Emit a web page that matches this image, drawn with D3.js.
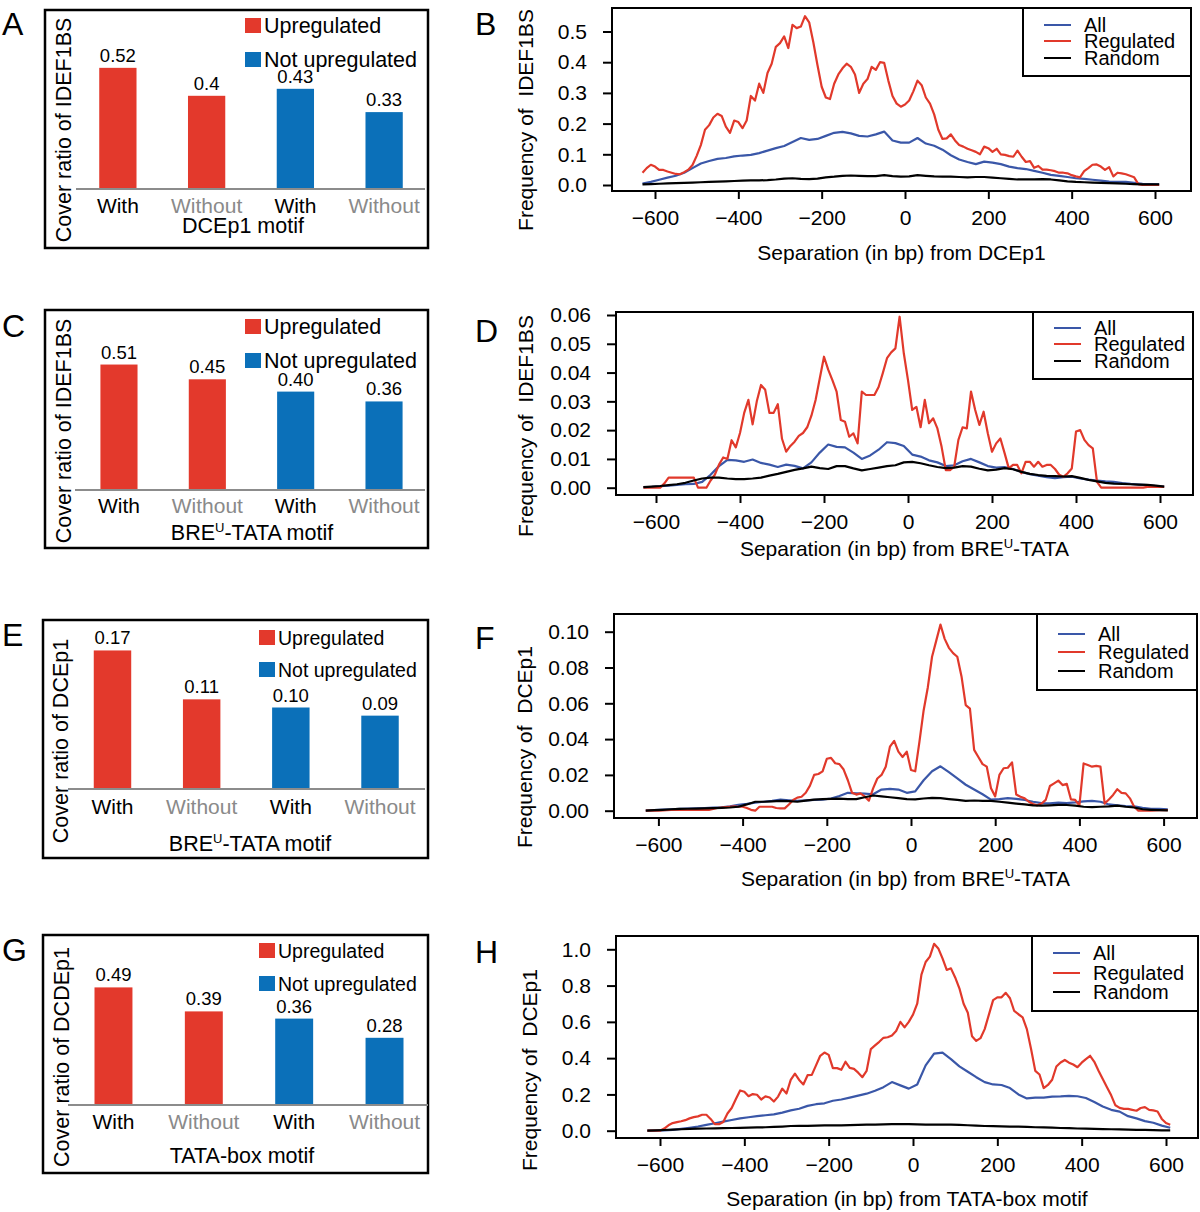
<!DOCTYPE html>
<html>
<head>
<meta charset="utf-8">
<script src="https://cdn.jsdelivr.net/npm/d3@7"></script>
<style>
  body { margin: 0; background: #fff; }
  svg text { font-family: "Liberation Sans", Arial, Helvetica, sans-serif; }
</style>
</head>
<body>
<div id="fig"></div>
<script>
// ---- bar panel data (A, C, E, G) ----
var barCategories = ["With", "Without", "With", "Without"];
var barGroupOf = [0, 0, 1, 1];
var barGroups = ["Upregulated", "Not upregulated"];

var valuesA = [0.52, 0.40, 0.43, 0.33];
var labelsA = ["0.52", "0.4", "0.43", "0.33"];
var valuesC = [0.51, 0.45, 0.40, 0.36];
var labelsC = ["0.51", "0.45", "0.40", "0.36"];
var valuesE = [0.17, 0.11, 0.10, 0.09];
var labelsE = ["0.17", "0.11", "0.10", "0.09"];
var valuesG = [0.49, 0.39, 0.36, 0.28];
var labelsG = ["0.49", "0.39", "0.36", "0.28"];

// ---- line panel data (B, D, F, H) ----
// separation positions (bp): fine grid for "Regulated", coarse grid for "All"/"Random"
var posFine = d3.range(-630, 611, 10);
var posCoarse = d3.range(-630, 611, 20);
var xTicks = [-600, -400, -200, 0, 200, 400, 600];
var seriesNames = ["All", "Regulated", "Random"];

var regB = [
  0.040, 0.055, 0.066, 0.060, 0.049, 0.049, 0.044, 0.040, 0.036, 0.035,
  0.042, 0.050, 0.065, 0.095, 0.130, 0.180, 0.195, 0.220, 0.232, 0.225,
  0.190, 0.170, 0.210, 0.205, 0.185, 0.210, 0.290, 0.275, 0.330, 0.300,
  0.365, 0.395, 0.450, 0.462, 0.484, 0.446, 0.522, 0.511, 0.516, 0.550,
  0.530, 0.465, 0.390, 0.320, 0.285, 0.280, 0.330, 0.360, 0.380, 0.395,
  0.385, 0.360, 0.300, 0.330, 0.345, 0.385, 0.375, 0.400, 0.398, 0.340,
  0.290, 0.265, 0.255, 0.262, 0.275, 0.305, 0.340, 0.325, 0.285, 0.265,
  0.230, 0.180, 0.150, 0.152, 0.165, 0.145, 0.130, 0.125, 0.118, 0.113,
  0.108, 0.100, 0.125, 0.120, 0.108, 0.118, 0.100, 0.098, 0.094, 0.092,
  0.112, 0.092, 0.075, 0.078, 0.056, 0.062, 0.050, 0.050, 0.048, 0.045,
  0.040, 0.040, 0.038, 0.032, 0.028, 0.025, 0.045, 0.055, 0.066, 0.067,
  0.060, 0.049, 0.058, 0.028, 0.040, 0.038, 0.035, 0.030, 0.025, 0.003,
  0.000, 0.000, 0.000, 0.000, 0.000
];
var allB = [
  0.005, 0.010, 0.017, 0.024, 0.030, 0.040, 0.055, 0.070, 0.078, 0.085,
  0.088, 0.093, 0.096, 0.098, 0.104, 0.112, 0.120, 0.127, 0.140, 0.153,
  0.147, 0.150, 0.160, 0.170, 0.173, 0.168, 0.160, 0.158, 0.165, 0.174,
  0.145, 0.138, 0.138, 0.153, 0.135, 0.128, 0.115, 0.097, 0.083, 0.075,
  0.068, 0.076, 0.073, 0.068, 0.060, 0.055, 0.052, 0.046, 0.040, 0.033,
  0.030, 0.026, 0.022, 0.020, 0.017, 0.014, 0.011, 0.010, 0.010, 0.007,
  0.004, 0.003, 0.002
];
var randB = [
  0.002, 0.003, 0.004, 0.005, 0.006, 0.007, 0.008, 0.009, 0.010, 0.011,
  0.012, 0.013, 0.014, 0.015, 0.015, 0.016, 0.018, 0.021, 0.022, 0.020,
  0.019, 0.021, 0.025, 0.027, 0.030, 0.031, 0.030, 0.029, 0.029, 0.032,
  0.029, 0.027, 0.028, 0.032, 0.030, 0.028, 0.027, 0.027, 0.026, 0.025,
  0.026, 0.026, 0.024, 0.022, 0.020, 0.018, 0.018, 0.018, 0.019, 0.018,
  0.015, 0.012, 0.010, 0.009, 0.008, 0.007, 0.006, 0.005, 0.004, 0.003,
  0.002, 0.002, 0.002
];

var regD = [
  0.0000, 0.0000, 0.0000, 0.0000, 0.0000, 0.0015, 0.0035, 0.0035, 0.0035, 0.0035,
  0.0035, 0.0035, 0.0035, 0.0000, 0.0000, 0.0000, 0.0025, 0.0045, 0.0080, 0.0105,
  0.0100, 0.0165, 0.0140, 0.0190, 0.0260, 0.0305, 0.0220, 0.0300, 0.0357, 0.0340,
  0.0260, 0.0260, 0.0290, 0.0170, 0.0125, 0.0145, 0.0160, 0.0180, 0.0190, 0.0210,
  0.0250, 0.0305, 0.0380, 0.0455, 0.0410, 0.0374, 0.0334, 0.0235, 0.0229, 0.0177,
  0.0189, 0.0154, 0.0334, 0.0322, 0.0322, 0.0322, 0.0350, 0.0398, 0.0450, 0.0470,
  0.0484, 0.0594, 0.0467, 0.0374, 0.0270, 0.0281, 0.0210, 0.0305, 0.0224, 0.0241,
  0.0206, 0.0142, 0.0061, 0.0061, 0.0073, 0.0166, 0.0210, 0.0206, 0.0334, 0.0270,
  0.0218, 0.0264, 0.0189, 0.0125, 0.0154, 0.0171, 0.0120, 0.0067, 0.0079, 0.0079,
  0.0050, 0.0090, 0.0090, 0.0073, 0.0090, 0.0073, 0.0079, 0.0079, 0.0065, 0.0045,
  0.0038, 0.0050, 0.0067, 0.0195, 0.0200, 0.0166, 0.0148, 0.0137, 0.0020, 0.0000,
  0.0000, 0.0000, 0.0000, 0.0000, 0.0000, 0.0000, 0.0000, 0.0000, 0.0000, 0.0000,
  0.0003, 0.0003, 0.0003, 0.0003, 0.0003
];
var allD = [
  0.0002, 0.0003, 0.0005, 0.0007, 0.0010, 0.0012, 0.0013, 0.0020, 0.0045, 0.0075,
  0.0097, 0.0095, 0.0090, 0.0098, 0.0086, 0.0080, 0.0072, 0.0080, 0.0076, 0.0067,
  0.0088, 0.0122, 0.0150, 0.0142, 0.0140, 0.0122, 0.0100, 0.0112, 0.0132, 0.0158,
  0.0155, 0.0145, 0.0115, 0.0108, 0.0095, 0.0088, 0.0075, 0.0078, 0.0092, 0.0100,
  0.0088, 0.0075, 0.0070, 0.0072, 0.0065, 0.0055, 0.0047, 0.0042, 0.0037, 0.0033,
  0.0037, 0.0038, 0.0032, 0.0028, 0.0025, 0.0022, 0.0020, 0.0016, 0.0013, 0.0011,
  0.0009, 0.0006, 0.0004
];
var randD = [
  0.0002, 0.0004, 0.0006, 0.0009, 0.0012, 0.0017, 0.0025, 0.0032, 0.0035, 0.0035,
  0.0032, 0.0030, 0.0030, 0.0032, 0.0035, 0.0042, 0.0048, 0.0055, 0.0062, 0.0067,
  0.0073, 0.0068, 0.0065, 0.0075, 0.0075, 0.0067, 0.0060, 0.0065, 0.0070, 0.0075,
  0.0078, 0.0088, 0.0090, 0.0085, 0.0078, 0.0072, 0.0068, 0.0070, 0.0075, 0.0073,
  0.0066, 0.0060, 0.0063, 0.0068, 0.0064, 0.0055, 0.0048, 0.0044, 0.0041, 0.0040,
  0.0039, 0.0040, 0.0034, 0.0027, 0.0022, 0.0017, 0.0014, 0.0013, 0.0012, 0.0011,
  0.0010, 0.0007, 0.0004
];

var regF = [
  0.0000, 0.0000, 0.0000, 0.0000, 0.0002, 0.0003, 0.0004, 0.0004, 0.0004, 0.0004,
  0.0004, 0.0004, 0.0004, 0.0004, 0.0004, 0.0005, 0.0010, 0.0015, 0.0018, 0.0020,
  0.0022, 0.0024, 0.0022, 0.0022, 0.0015, 0.0005, 0.0000, 0.0022, 0.0022, 0.0022,
  0.0022, 0.0015, 0.0013, 0.0013, 0.0035, 0.0060, 0.0073, 0.0078, 0.0100, 0.0140,
  0.0200, 0.0205, 0.0220, 0.0290, 0.0295, 0.0265, 0.0260, 0.0230, 0.0170, 0.0100,
  0.0090, 0.0097, 0.0080, 0.0056, 0.0125, 0.0180, 0.0200, 0.0246, 0.0358, 0.0390,
  0.0330, 0.0300, 0.0330, 0.0227, 0.0220, 0.0385, 0.0560, 0.0690, 0.0860, 0.0950,
  0.1040, 0.0960, 0.0910, 0.0880, 0.0860, 0.0750, 0.0590, 0.0570, 0.0340, 0.0300,
  0.0260, 0.0246, 0.0125, 0.0080, 0.0200, 0.0237, 0.0240, 0.0270, 0.0090, 0.0078,
  0.0069, 0.0050, 0.0037, 0.0030, 0.0040, 0.0060, 0.0138, 0.0153, 0.0168, 0.0143,
  0.0150, 0.0063, 0.0060, 0.0030, 0.0264, 0.0255, 0.0246, 0.0250, 0.0246, 0.0040,
  0.0063, 0.0088, 0.0120, 0.0100, 0.0097, 0.0069, 0.0022, 0.0000, 0.0000, 0.0000,
  0.0000, 0.0002, 0.0003, 0.0003, 0.0003
];
var allF = [
  0.0000, 0.0003, 0.0006, 0.0008, 0.0010, 0.0012, 0.0013, 0.0015, 0.0017, 0.0019,
  0.0025, 0.0033, 0.0038, 0.0045, 0.0050, 0.0055, 0.0062, 0.0058, 0.0055, 0.0058,
  0.0060, 0.0062, 0.0068, 0.0082, 0.0100, 0.0097, 0.0095, 0.0092, 0.0118, 0.0122,
  0.0118, 0.0100, 0.0108, 0.0170, 0.0220, 0.0248, 0.0215, 0.0180, 0.0145, 0.0118,
  0.0092, 0.0062, 0.0065, 0.0070, 0.0066, 0.0060, 0.0050, 0.0042, 0.0041, 0.0045,
  0.0042, 0.0046, 0.0052, 0.0055, 0.0050, 0.0035, 0.0030, 0.0026, 0.0025, 0.0016,
  0.0011, 0.0010, 0.0008
];
var randF = [
  0.0000, 0.0003, 0.0005, 0.0008, 0.0010, 0.0011, 0.0012, 0.0013, 0.0014, 0.0016,
  0.0018, 0.0022, 0.0035, 0.0050, 0.0050, 0.0052, 0.0055, 0.0053, 0.0050, 0.0056,
  0.0062, 0.0065, 0.0066, 0.0068, 0.0065, 0.0065, 0.0075, 0.0085, 0.0080, 0.0075,
  0.0070, 0.0065, 0.0063, 0.0068, 0.0072, 0.0070, 0.0065, 0.0060, 0.0055, 0.0057,
  0.0055, 0.0055, 0.0050, 0.0045, 0.0040, 0.0035, 0.0030, 0.0028, 0.0030, 0.0033,
  0.0032, 0.0028, 0.0022, 0.0020, 0.0022, 0.0024, 0.0028, 0.0022, 0.0018, 0.0008,
  0.0005, 0.0003, 0.0002
];

var regH = [
  0.000, 0.000, 0.000, 0.000, 0.012, 0.030, 0.042, 0.047, 0.052, 0.058,
  0.068, 0.075, 0.079, 0.088, 0.088, 0.065, 0.036, 0.036, 0.048, 0.095,
  0.125, 0.175, 0.222, 0.215, 0.190, 0.202, 0.198, 0.172, 0.189, 0.183,
  0.161, 0.188, 0.232, 0.205, 0.280, 0.315, 0.280, 0.255, 0.306, 0.308,
  0.360, 0.413, 0.431, 0.418, 0.345, 0.345, 0.336, 0.380, 0.346, 0.341,
  0.320, 0.295, 0.330, 0.450, 0.470, 0.490, 0.512, 0.515, 0.525, 0.550,
  0.600, 0.570, 0.600, 0.640, 0.700, 0.860, 0.930, 0.960, 1.030, 1.005,
  0.950, 0.886, 0.895, 0.845, 0.785, 0.700, 0.650, 0.520, 0.495, 0.510,
  0.560, 0.640, 0.720, 0.735, 0.735, 0.760, 0.730, 0.660, 0.642, 0.625,
  0.560, 0.450, 0.330, 0.310, 0.235, 0.252, 0.281, 0.354, 0.376, 0.390,
  0.375, 0.365, 0.350, 0.375, 0.395, 0.413, 0.380, 0.330, 0.285, 0.240,
  0.195, 0.140, 0.126, 0.120, 0.120, 0.115, 0.110, 0.125, 0.130, 0.115,
  0.112, 0.106, 0.065, 0.042, 0.033
];
var allH = [
  0.000, 0.000, 0.001, 0.005, 0.010, 0.016, 0.023, 0.032, 0.041, 0.050,
  0.059, 0.068, 0.074, 0.080, 0.085, 0.090, 0.100, 0.112, 0.121, 0.137,
  0.146, 0.151, 0.165, 0.172, 0.182, 0.193, 0.204, 0.220, 0.240, 0.268,
  0.250, 0.232, 0.255, 0.360, 0.425, 0.430, 0.395, 0.355, 0.325, 0.295,
  0.268, 0.255, 0.252, 0.235, 0.200, 0.178, 0.182, 0.182, 0.188, 0.189,
  0.192, 0.190, 0.180, 0.158, 0.133, 0.115, 0.105, 0.080, 0.068, 0.053,
  0.044, 0.028, 0.016
];
var randH = [
  0.000, 0.002, 0.004, 0.006, 0.008, 0.010, 0.011, 0.012, 0.013, 0.014,
  0.015, 0.016, 0.017, 0.018, 0.019, 0.021, 0.023, 0.026, 0.027, 0.027,
  0.028, 0.029, 0.029, 0.029, 0.031, 0.032, 0.033, 0.034, 0.035, 0.036,
  0.036, 0.036, 0.035, 0.034, 0.033, 0.033, 0.033, 0.032, 0.030, 0.028,
  0.026, 0.025, 0.024, 0.023, 0.022, 0.021, 0.019, 0.018, 0.017, 0.015,
  0.014, 0.012, 0.011, 0.010, 0.009, 0.008, 0.007, 0.006, 0.005, 0.004,
  0.003, 0.002, 0.002
];

// ---- styling ----
var barColors = ["#e3392c", "#0b70b9"];
var lineColors = ["#3a57a8", "#e1392b", "#000000"]; // All, Regulated, Random
var grayText = "#8a8a8a";

var svg = d3.select("#fig").append("svg")
    .attr("width", 1200)
    .attr("height", 1212);

// text with an optional "^X" superscript character
function richText(t, str, size) {
  var i = str.indexOf("^");
  if (i < 0) { t.text(str); return; }
  t.append("tspan").text(str.slice(0, i));
  t.append("tspan").attr("font-size", Math.round(size * 0.6))
      .attr("dy", -size * 0.38).text(str.charAt(i + 1));
  t.append("tspan").attr("dy", size * 0.38).text(str.slice(i + 2));
}

var drawBarPanel = function(p) {
  var g = svg.append("g");

  g.append("rect")
      .attr("x", p.box[0]).attr("y", p.box[1])
      .attr("width", p.box[2] - p.box[0]).attr("height", p.box[3] - p.box[1])
      .attr("fill", "none").attr("stroke", "#000").attr("stroke-width", 2.5);

  g.append("text").attr("x", 2).attr("y", p.letterY)
      .attr("font-size", 32).text(p.letter);

  var xScale = d3.scaleBand()
      .domain(d3.range(barCategories.length))
      .range(p.xRange)
      .paddingInner(0.58)
      .paddingOuter(0.29);

  var yScale = d3.scaleLinear()
      .domain([0, p.yMax])
      .range([p.base, p.top]);

  g.selectAll(".bar")
      .data(p.values)
      .enter().append("rect")
      .attr("class", "bar")
      .attr("x", function(d, i) { return xScale(i); })
      .attr("width", xScale.bandwidth())
      .attr("y", function(d) { return yScale(d); })
      .attr("height", function(d) { return p.base - yScale(d); })
      .attr("fill", function(d, i) { return barColors[barGroupOf[i]]; });

  g.selectAll(".vlab")
      .data(p.values)
      .enter().append("text")
      .attr("class", "vlab")
      .attr("x", function(d, i) { return xScale(i) + xScale.bandwidth() / 2; })
      .attr("y", function(d) { return yScale(d) - 6; })
      .attr("text-anchor", "middle")
      .attr("font-size", 18.5)
      .text(function(d, i) { return p.labels[i]; });

  // category axis
  var xAxis = d3.axisBottom(xScale)
      .tickSize(0)
      .tickFormat(function(i) { return barCategories[i]; });
  var ax = g.append("g")
      .attr("transform", "translate(0," + p.base + ")")
      .call(xAxis);
  ax.select(".domain").remove();
  ax.attr("font-size", 21).attr("font-family", null);
  ax.selectAll("text")
      .attr("y", p.tickY - p.base).attr("dy", 0)
      .attr("fill", function(i) { return barCategories[i] === "Without" ? grayText : "#000"; });

  g.append("line")
      .attr("x1", p.axisX[0]).attr("x2", p.axisX[1])
      .attr("y1", p.base).attr("y2", p.base)
      .attr("stroke", "#8c8c8c").attr("stroke-width", 2);

  var title = g.append("text").attr("x", p.titlePos[0]).attr("y", p.titlePos[1])
      .attr("text-anchor", "middle").attr("font-size", 21.5);
  richText(title, p.title, 21.5);

  g.append("text")
      .attr("transform", "translate(" + p.ylabPos[0] + "," + p.ylabPos[1] + ") rotate(-90)")
      .attr("text-anchor", "middle").attr("font-size", 21.5)
      .text(p.ylab);

  // legend
  barGroups.forEach(function(name, k) {
    g.append("rect")
        .attr("x", p.legX).attr("y", p.legY[k])
        .attr("width", 16).attr("height", 15)
        .attr("fill", barColors[k]);
    g.append("text")
        .attr("x", p.legX + 19).attr("y", p.legY[k] + 7.5)
        .attr("dominant-baseline", "central")
        .attr("font-size", p.legFont)
        .text(name);
  });
};

var drawLinePanel = function(p) {
  var g = svg.append("g");

  g.append("text").attr("x", 475).attr("y", p.letterY)
      .attr("font-size", 32).text(p.letter);

  var xScale = d3.scaleLinear()
      .domain([-600, 600])
      .range(p.xRange);
  var yScale = d3.scaleLinear()
      .domain([0, p.yTicks[p.yTicks.length - 1]])
      .range(p.yRange);

  var line = d3.line()
      .x(function(d) { return xScale(d[0]); })
      .y(function(d) { return yScale(d[1]); });

  // R draws All first, then Regulated, then Random
  var series = [
    { pos: posCoarse, vals: p.all, color: lineColors[0] },
    { pos: posFine, vals: p.reg, color: lineColors[1] },
    { pos: posCoarse, vals: p.rand, color: lineColors[2] }
  ];
  series.forEach(function(s) {
    g.append("path")
        .datum(d3.zip(s.pos, s.vals))
        .attr("d", line)
        .attr("fill", "none")
        .attr("stroke", s.color)
        .attr("stroke-width", 2.2)
        .attr("stroke-linejoin", "round");
  });

  var xAxis = d3.axisBottom(xScale)
      .tickValues(xTicks)
      .tickSize(8)
      .tickPadding(11);
  var xa = g.append("g")
      .attr("transform", "translate(0," + p.box[3] + ")")
      .call(xAxis);
  xa.select(".domain").remove();
  xa.attr("font-size", 21).attr("font-family", null);
  xa.selectAll("line").attr("stroke-width", 2);

  var yAxis = d3.axisLeft(yScale)
      .tickValues(p.yTicks)
      .tickFormat(d3.format(p.fmt))
      .tickSize(9)
      .tickPadding(16);
  var ya = g.append("g")
      .attr("transform", "translate(" + p.box[0] + ",0)")
      .call(yAxis);
  ya.select(".domain").remove();
  ya.attr("font-size", 21).attr("font-family", null);
  ya.selectAll("line").attr("stroke-width", 2);

  g.append("rect")
      .attr("x", p.box[0]).attr("y", p.box[1])
      .attr("width", p.box[2] - p.box[0]).attr("height", p.box[3] - p.box[1])
      .attr("fill", "none").attr("stroke", "#000").attr("stroke-width", 2);

  // legend
  var lb = p.legBox;
  g.append("rect")
      .attr("x", lb[0]).attr("y", lb[1])
      .attr("width", p.box[2] - lb[0]).attr("height", lb[2] - lb[1])
      .attr("fill", "#fff").attr("stroke", "#000").attr("stroke-width", 2);
  seriesNames.forEach(function(name, k) {
    g.append("line")
        .attr("x1", lb[0] + 21).attr("x2", lb[0] + 48)
        .attr("y1", p.legY[k]).attr("y2", p.legY[k])
        .attr("stroke", lineColors[k]).attr("stroke-width", 2);
    g.append("text")
        .attr("x", lb[0] + 61).attr("y", p.legY[k])
        .attr("dominant-baseline", "central")
        .attr("font-size", 20)
        .text(name);
  });

  var xl = g.append("text")
      .attr("x", (p.box[0] + p.box[2]) / 2).attr("y", p.xlabY)
      .attr("text-anchor", "middle").attr("font-size", 21);
  richText(xl, p.xlab, 21);

  g.append("text")
      .attr("transform", "translate(" + p.ylabPos[0] + "," + p.ylabPos[1] + ") rotate(-90)")
      .attr("text-anchor", "middle").attr("font-size", 21)
      .attr("xml:space", "preserve").style("white-space", "pre")
      .text(p.ylab);
};

// ---- panels ----
drawBarPanel({ letter: "A", letterY: 35, box: [45, 10, 428, 248],
  values: valuesA, labels: labelsA, xRange: [73.5, 428.5], base: 189, yMax: 0.6, top: 189 - 0.6 * 233,
  axisX: [76, 425], tickY: 213, title: "DCEp1 motif", titlePos: [243, 233],
  ylab: "Cover ratio of IDEF1BS", ylabPos: [71, 130], legX: 245, legY: [18, 52], legFont: 21.5 });

drawBarPanel({ letter: "C", letterY: 337, box: [45, 310, 428, 548],
  values: valuesC, labels: labelsC, xRange: [74.8, 428.2], base: 490, yMax: 0.6, top: 490 - 0.6 * 246,
  axisX: [75, 425], tickY: 513, title: "BRE^U-TATA motif", titlePos: [252, 540],
  ylab: "Cover ratio of IDEF1BS", ylabPos: [71, 431], legX: 245, legY: [319, 353], legFont: 21.5 });

drawBarPanel({ letter: "E", letterY: 646, box: [43, 620, 428, 858],
  values: valuesE, labels: labelsE, xRange: [67.9, 424.6], base: 789, yMax: 0.2, top: 789 - 0.2 * 815,
  axisX: [68, 425], tickY: 814, title: "BRE^U-TATA motif", titlePos: [250, 851],
  ylab: "Cover ratio of DCEp1", ylabPos: [68, 741], legX: 259, legY: [630, 662], legFont: 19.5 });

drawBarPanel({ letter: "G", letterY: 961, box: [43, 935, 428, 1173],
  values: valuesG, labels: labelsG, xRange: [68.3, 429.7], base: 1105, yMax: 0.6, top: 1105 - 0.6 * 240,
  axisX: [68, 428], tickY: 1129, title: "TATA-box motif", titlePos: [242, 1163],
  ylab: "Cover ratio of DCDEp1", ylabPos: [69, 1057], legX: 259, legY: [943, 976], legFont: 19.5 });

drawLinePanel({ letter: "B", letterY: 35, box: [612, 8, 1191, 191],
  reg: regB, all: allB, rand: randB,
  xRange: [655, 1155], yRange: [185, 31.5], yTicks: [0, 0.1, 0.2, 0.3, 0.4, 0.5], fmt: ".1f",
  legBox: [1023, 8, 76], legY: [25, 41, 58],
  xlab: "Separation (in bp) from DCEp1", xlabY: 260,
  ylab: "Frequency of  IDEF1BS", ylabPos: [533, 120] });

drawLinePanel({ letter: "D", letterY: 342, box: [616, 312, 1193, 495],
  reg: regD, all: allD, rand: randD,
  xRange: [656, 1160], yRange: [487.7, 315], yTicks: [0, 0.01, 0.02, 0.03, 0.04, 0.05, 0.06], fmt: ".2f",
  legBox: [1033, 312, 379], legY: [328, 344, 361],
  xlab: "Separation (in bp) from BRE^U-TATA", xlabY: 556,
  ylab: "Frequency of  IDEF1BS", ylabPos: [533, 426] });

drawLinePanel({ letter: "F", letterY: 649, box: [614, 614, 1197, 818],
  reg: regF, all: allF, rand: randF,
  xRange: [658.4, 1163.6], yRange: [810.7, 631.7], yTicks: [0, 0.02, 0.04, 0.06, 0.08, 0.10], fmt: ".2f",
  legBox: [1037, 614, 690], legY: [634, 652, 671],
  xlab: "Separation (in bp) from BRE^U-TATA", xlabY: 886,
  ylab: "Frequency of  DCEp1", ylabPos: [532, 747] });

drawLinePanel({ letter: "H", letterY: 963, box: [616, 936, 1198, 1138],
  reg: regH, all: allH, rand: randH,
  xRange: [660, 1166], yRange: [1130.7, 949.3], yTicks: [0, 0.2, 0.4, 0.6, 0.8, 1.0], fmt: ".1f",
  legBox: [1032, 936, 1011], legY: [953, 973, 992],
  xlab: "Separation (in bp) from TATA-box motif", xlabY: 1206,
  ylab: "Frequency of  DCEp1", ylabPos: [537, 1070] });
</script>
</body>
</html>
